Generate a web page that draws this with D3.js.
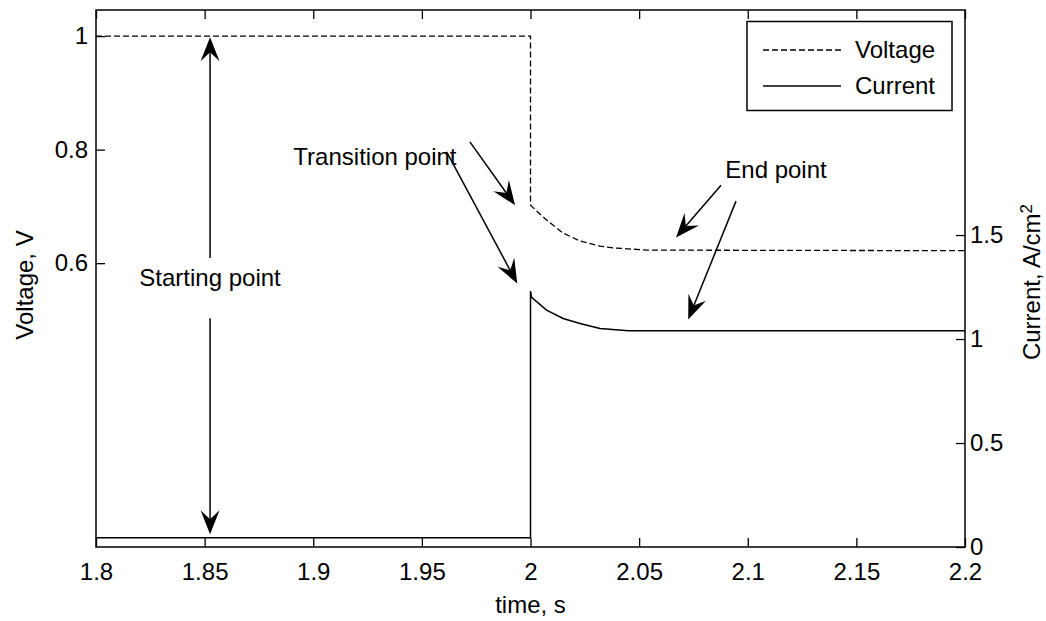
<!DOCTYPE html>
<html>
<head>
<meta charset="utf-8">
<script src="https://cdn.jsdelivr.net/npm/d3@7"></script>
<style>
  body { margin: 0; background: #fff; }
  text { font-family: "Liberation Sans", Arial, sans-serif; fill: #000; }
</style>
</head>
<body>
<div id="chart"></div>
<script>
// voltage / current step response
const voltTime = [1.8, 2.0, 2.0, 2.0074, 2.015, 2.0228, 2.032, 2.038, 2.0536, 2.2];
const voltValue = [1.0, 1.0, 0.702, 0.676, 0.653, 0.639, 0.630, 0.627, 0.623, 0.622];
const currTime = [1.8, 2.0, 2.0, 2.0005, 2.0074, 2.015, 2.0228, 2.032, 2.045, 2.2];
const currValue = [0.045, 0.045, 1.23, 1.20, 1.139, 1.099, 1.075, 1.051, 1.040, 1.040];

const xTicks = [1.8, 1.85, 1.9, 1.95, 2, 2.05, 2.1, 2.15, 2.2];
const voltTicks = [0.6, 0.8, 1];
const currTicks = [0, 0.5, 1, 1.5];

// annotations, in (time, voltage) units
const labels = [
  { text: "Starting point", t: 1.8525, v: 0.575 },
  { text: "Transition point", t: 1.9284, v: 0.787 },
  { text: "End point", t: 2.113, v: 0.764 }
];
const arrows = [
  [1.8525, 0.609, 1.8525, 0.998],
  [1.8525, 0.503, 1.8525, 0.1225],
  [1.9721, 0.8137, 1.9929, 0.7022],
  [1.9614, 0.7961, 1.9939, 0.5642],
  [2.0877, 0.7374, 2.0670, 0.6453],
  [2.0946, 0.7093, 2.0726, 0.5008]
];

const width = 1046, height = 621;
const mLeft = 96, mRight = 965, mTop = 10, mBottom = 547;

const svg = d3.select("#chart").append("svg")
  .attr("width", width)
  .attr("height", height);

const x = d3.scaleLinear().domain([1.8, 2.2]).range([mLeft, mRight]);
const yV = d3.scaleLinear().domain([0.1, 1.046]).range([mBottom, mTop]);
const yI = d3.scaleLinear().domain([0, 2.582]).range([mBottom, mTop]);

const fontSize = 24;

// axes
svg.append("g")
  .attr("transform", `translate(0,${mBottom})`)
  .call(d3.axisBottom(x).tickValues(xTicks).tickFormat(d3.format("")).tickSize(-9).tickPadding(16));
svg.append("g")
  .attr("transform", `translate(0,${mTop})`)
  .call(d3.axisTop(x).tickValues(xTicks).tickFormat("").tickSize(-9));
svg.append("g")
  .attr("transform", `translate(${mLeft},0)`)
  .call(d3.axisLeft(yV).tickValues(voltTicks).tickFormat(d3.format("")).tickSize(-9).tickPadding(8));
svg.append("g")
  .attr("transform", `translate(${mRight},0)`)
  .call(d3.axisRight(yI).tickValues(currTicks).tickFormat(d3.format("")).tickSize(-9).tickPadding(5));

svg.selectAll(".domain").remove();
svg.selectAll(".tick line").attr("stroke", "#000").attr("stroke-width", 1.3);
svg.selectAll(".tick text")
  .style("font-family", '"Liberation Sans", Arial, sans-serif')
  .style("font-size", fontSize + "px")
  .attr("fill", "#000");

// frame
svg.append("rect")
  .attr("x", mLeft).attr("y", mTop)
  .attr("width", mRight - mLeft).attr("height", mBottom - mTop)
  .attr("fill", "none").attr("stroke", "#000").attr("stroke-width", 1.5);

// series
const voltLine = d3.line().x((d, i) => x(voltTime[i])).y(d => yV(d));
const currLine = d3.line().x((d, i) => x(currTime[i])).y(d => yI(d));

svg.append("path")
  .attr("d", voltLine(voltValue))
  .attr("fill", "none").attr("stroke", "#000")
  .attr("stroke-width", 1.3).attr("stroke-dasharray", "6,3");
svg.append("path")
  .attr("d", currLine(currValue))
  .attr("fill", "none").attr("stroke", "#000")
  .attr("stroke-width", 1.5);

// annotation arrows
function drawArrow(x1, y1, x2, y2) {
  const dx = x2 - x1, dy = y2 - y1;
  const len = Math.sqrt(dx * dx + dy * dy);
  const ux = dx / len, uy = dy / len;
  const px = -uy, py = ux;
  const L = 24, W = 9.5, N = 15;
  svg.append("line")
    .attr("x1", x1).attr("y1", y1)
    .attr("x2", x2 - ux * N).attr("y2", y2 - uy * N)
    .attr("stroke", "#000").attr("stroke-width", 1.5);
  const pts = [
    [x2, y2],
    [x2 - ux * L + px * W, y2 - uy * L + py * W],
    [x2 - ux * N, y2 - uy * N],
    [x2 - ux * L - px * W, y2 - uy * L - py * W]
  ];
  svg.append("polygon")
    .attr("points", pts.map(p => p.join(",")).join(" "))
    .attr("fill", "#000");
}
arrows.forEach(a => drawArrow(x(a[0]), yV(a[1]), x(a[2]), yV(a[3])));

svg.selectAll(".note")
  .data(labels)
  .enter().append("text")
  .attr("class", "note")
  .attr("x", d => x(d.t))
  .attr("y", d => yV(d.v))
  .attr("dy", "0.35em")
  .attr("text-anchor", "middle")
  .style("font-size", fontSize + "px")
  .text(d => d.text);

// axis titles
svg.append("text")
  .attr("x", (mLeft + mRight) / 2).attr("y", 613)
  .attr("text-anchor", "middle")
  .style("font-size", fontSize + "px")
  .text("time, s");
svg.append("text")
  .attr("transform", "translate(33,285) rotate(-90)")
  .attr("text-anchor", "middle")
  .style("font-size", fontSize + "px")
  .text("Voltage, V");
const cLab = svg.append("text")
  .attr("transform", "translate(1040,282) rotate(-90)")
  .attr("text-anchor", "middle")
  .style("font-size", fontSize + "px");
cLab.append("tspan").text("Current, A/cm");
cLab.append("tspan").attr("dy", "-0.45em").style("font-size", "17px").text("2");

// legend
const legend = svg.append("g");
legend.append("rect")
  .attr("x", 747).attr("y", 21.5)
  .attr("width", 205).attr("height", 89)
  .attr("fill", "#fff").attr("stroke", "#000").attr("stroke-width", 1.5);
const legendItems = [
  { name: "Voltage", dash: "6,3", y: 50 },
  { name: "Current", dash: null, y: 86 }
];
legendItems.forEach(d => {
  legend.append("line")
    .attr("x1", 763).attr("x2", 841)
    .attr("y1", d.y).attr("y2", d.y)
    .attr("stroke", "#000").attr("stroke-width", 1.3)
    .attr("stroke-dasharray", d.dash);
  legend.append("text")
    .attr("x", 855).attr("y", d.y).attr("dy", "0.35em")
    .style("font-size", fontSize + "px")
    .text(d.name);
});
</script>
</body>
</html>
